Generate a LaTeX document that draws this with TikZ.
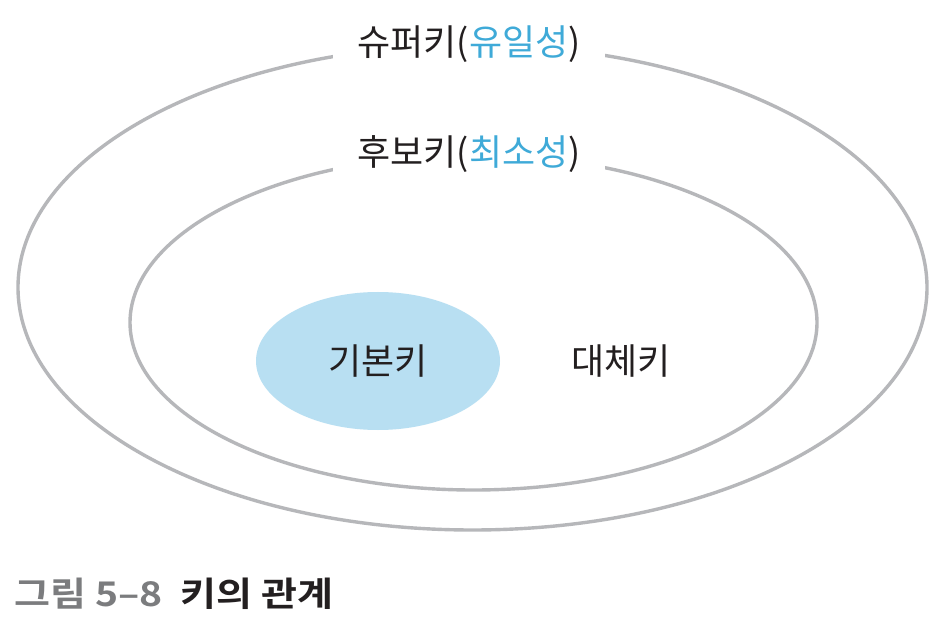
\documentclass[tikz,border=0pt]{standalone}
\usepackage{fontspec}
\setmainfont{Noto Sans CJK KR}
\newfontfamily\krbold[FakeStretch=1.15]{Noto Sans CJK KR Bold}
\usetikzlibrary{shapes.geometric}
\definecolor{ringgray}{HTML}{B6B7BA}
\definecolor{txtdark}{HTML}{231F20}
\definecolor{txtblue}{HTML}{3FAAD8}
\definecolor{pkfill}{HTML}{B8DFF2}
\definecolor{capgray}{HTML}{7B7C7E}
\tikzset{
  ring/.style={draw=ringgray, line width=3.4pt, ellipse, inner sep=0pt},
  ringlabel/.style={fill=white, inner xsep=24pt, inner ysep=2pt, text=txtdark, font=\fontsize{36}{42}\selectfont},
  keylabel/.style={text=txtdark, font=\fontsize{36}{42}\selectfont},
  caption/.style={anchor=west, inner sep=0pt, font=\krbold\fontsize{34}{40}\selectfont}
}
\begin{document}
\begin{tikzpicture}[x=1pt, y=-1pt]
\useasboundingbox (0,0) rectangle (945,628);
\fill[white] (0,0) rectangle (945,628);
\node[ring, minimum width=909pt, minimum height=485pt] (super) at (472.5,287.5) {};
\node[ring, minimum width=687pt, minimum height=335pt] (cand) at (473.5,322.5) {};
\node[ellipse, fill=pkfill, minimum width=244pt, minimum height=138pt, inner sep=0pt] (pk) at (378,361) {};
\node[keylabel] (pklabel) at (pk.center) {기본키};
\node[keylabel] (alt) at (621,361) {대체키};
\node[ringlabel] (superlabel) at (469,44) {슈퍼키(\textcolor{txtblue}{유일성})};
\node[ringlabel] (candlabel) at (469,154) {후보키(\textcolor{txtblue}{최소성})};
\node[caption] (cap) at (14,594) {\textcolor{capgray}{그림 5–8}\hspace{18pt}\textcolor{txtdark}{키의 관계}};
\end{tikzpicture}
\end{document}
